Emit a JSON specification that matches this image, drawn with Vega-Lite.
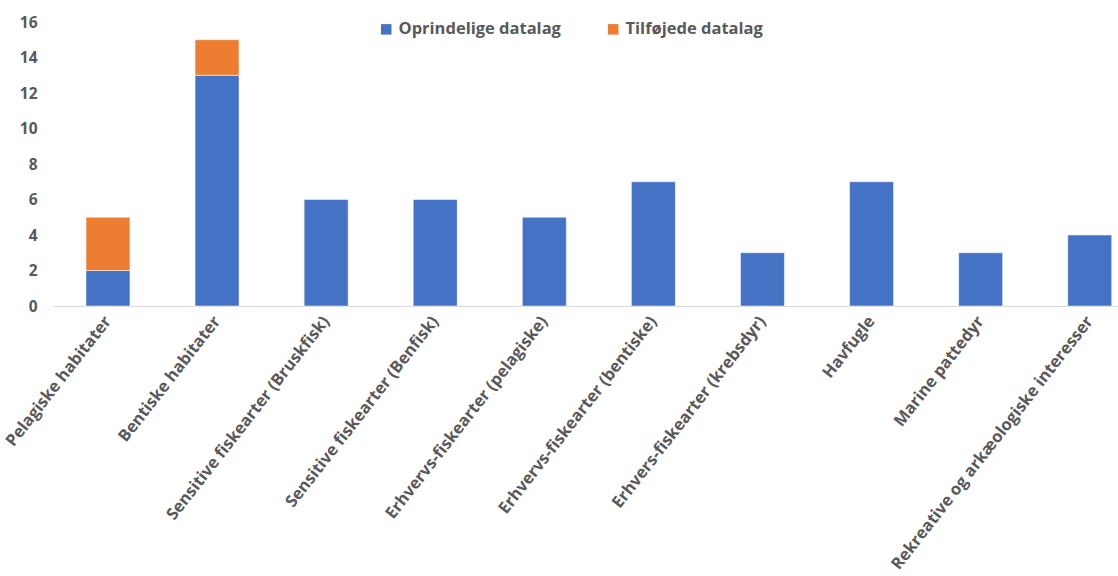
{
  "$schema": "https://vega.github.io/schema/vega-lite/v6.json",
  "autosize": "none",
  "width": 1065,
  "height": 284,
  "padding": {"left": 53, "top": 22, "right": 0, "bottom": 270},
  "background": "white",
  "config": {"view": {"stroke": null}, "font": "Open Sans"},
  "data": {"values": [
    {"kategori": "Pelagiske habitater", "serie": "Oprindelige datalag", "antal": 2},
    {"kategori": "Pelagiske habitater", "serie": "Tilføjede datalag", "antal": 3},
    {"kategori": "Bentiske habitater", "serie": "Oprindelige datalag", "antal": 13},
    {"kategori": "Bentiske habitater", "serie": "Tilføjede datalag", "antal": 2},
    {"kategori": "Sensitive fiskearter (Bruskfisk)", "serie": "Oprindelige datalag", "antal": 6},
    {"kategori": "Sensitive fiskearter (Benfisk)", "serie": "Oprindelige datalag", "antal": 6},
    {"kategori": "Erhvervs-fiskearter (pelagiske)", "serie": "Oprindelige datalag", "antal": 5},
    {"kategori": "Erhvervs-fiskearter (bentiske)", "serie": "Oprindelige datalag", "antal": 7},
    {"kategori": "Erhvers-fiskearter (krebsdyr)", "serie": "Oprindelige datalag", "antal": 3},
    {"kategori": "Havfugle", "serie": "Oprindelige datalag", "antal": 7},
    {"kategori": "Marine pattedyr", "serie": "Oprindelige datalag", "antal": 3},
    {"kategori": "Rekreative og arkæologiske interesser", "serie": "Oprindelige datalag", "antal": 4}
  ]},
  "mark": {"type": "bar", "stroke": "white", "strokeWidth": 0.5},
  "encoding": {
    "x": {
      "field": "kategori", "type": "nominal", "sort": null,
      "scale": {"paddingInner": 0.597, "paddingOuter": 0.18, "align": 0.84},
      "axis": {
        "title": null, "labelAngle": -52, "labelAlign": "right", "labelBaseline": "middle",
        "labelFont": "Open Sans", "labelFontWeight": "bold", "labelFontSize": 16.5,
        "labelColor": "#595959", "labelPadding": 12, "ticks": false,
        "domainColor": "#d9d9d9", "domainWidth": 1, "labelLimit": 400
      }
    },
    "y": {
      "field": "antal", "type": "quantitative", "stack": "zero",
      "scale": {"domain": [0, 16]},
      "axis": {
        "title": null, "values": [0, 2, 4, 6, 8, 10, 12, 14, 16], "grid": false,
        "domain": false, "ticks": false, "labelFont": "Open Sans", "labelFontWeight": "bold",
        "labelFontSize": 15.5, "labelColor": "#595959", "labelPadding": 16
      }
    },
    "color": {
      "field": "serie", "type": "nominal",
      "scale": {"domain": ["Oprindelige datalag", "Tilføjede datalag"], "range": ["#4472C4", "#ED7D31"]},
      "legend": {
        "title": null, "orient": "none", "direction": "horizontal",
        "legendX": 325, "legendY": -1, "symbolType": "square", "symbolSize": 110,
        "symbolStrokeWidth": 0, "labelFont": "Open Sans", "labelFontWeight": "bold",
        "labelFontSize": 16.5, "labelColor": "#595959", "columnPadding": 44, "labelOffset": 4,
        "labelLimit": 400
      }
    },
    "order": {"field": "serie", "sort": "ascending"}
  }
}
